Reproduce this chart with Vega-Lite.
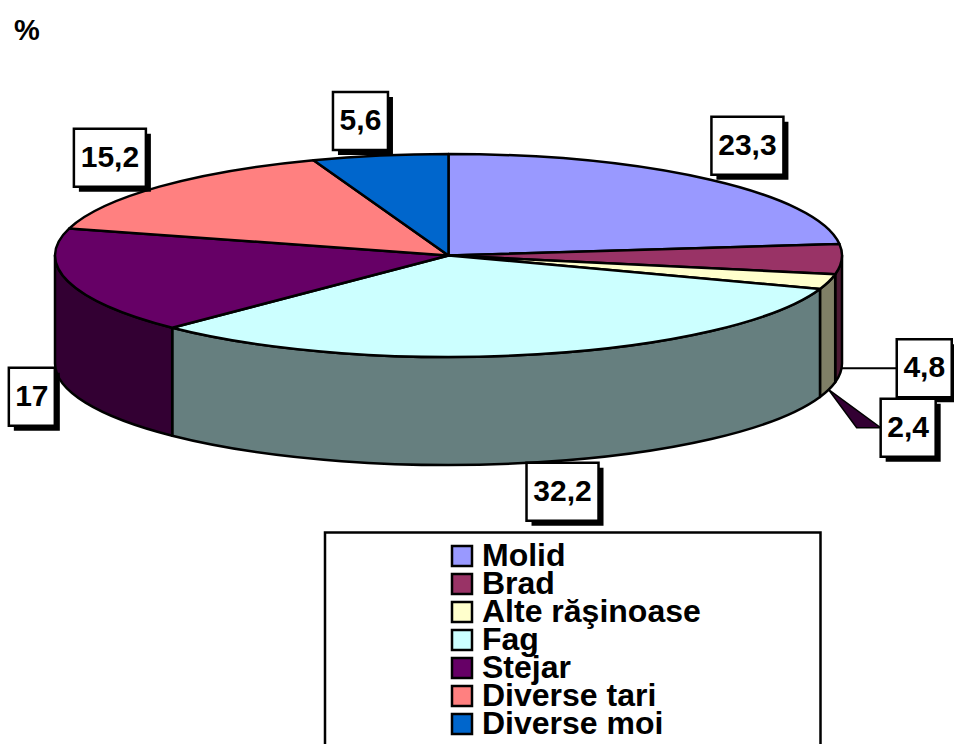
{
"$schema":"https://vega.github.io/schema/vega-lite/v6.json",
"width":954,"height":744,"padding":0,"autosize":"none",
"background":"white",
"config":{"view":{"stroke":null}},
"data":{"values":[
{"category":"Molid","value":23.3},
{"category":"Brad","value":4.8},
{"category":"Alte răşinoase","value":2.4},
{"category":"Fag","value":32.2},
{"category":"Stejar","value":17},
{"category":"Diverse tari","value":15.2},
{"category":"Diverse moi","value":5.6}
]},
"transform":[
{"window":[{"op":"sum","field":"value","as":"cum"},{"op":"row_number","as":"rowNum"}]},
{"joinaggregate":[{"op":"sum","field":"value","as":"total"}]},
{"calculate":"(datum.cum-datum.value)/datum.total*2*PI","as":"a0"},
{"calculate":"datum.cum/datum.total*2*PI","as":"a1"},
{"calculate":"(datum.a0+datum.a1)/2","as":"mid"},
{"calculate":"round(393.5*sin(datum.a0)*100)/100","as":"x0"},
{"calculate":"round(-101.5*cos(datum.a0)*100)/100","as":"y0"},
{"calculate":"round(393.5*sin(datum.a1)*100)/100","as":"x1"},
{"calculate":"round(-101.5*cos(datum.a1)*100)/100","as":"y1"},
{"calculate":"'M0,0L'+datum.x0+','+datum.y0+'A393.5,101.5 0 0 1 '+datum.x1+','+datum.y1+'Z'","as":"topPath"},
{"calculate":"clamp(datum.a0,PI/2,3*PI/2)","as":"w0"},
{"calculate":"clamp(datum.a1,PI/2,3*PI/2)","as":"w1"},
{"calculate":"round(393.5*sin(datum.w0)*100)/100","as":"wx0"},
{"calculate":"round(-101.5*cos(datum.w0)*100)/100","as":"wy0"},
{"calculate":"round(393.5*sin(datum.w1)*100)/100","as":"wx1"},
{"calculate":"round(-101.5*cos(datum.w1)*100)/100","as":"wy1"},
{"calculate":"'M'+datum.wx0+','+datum.wy0+'A393.5,101.5 0 0 1 '+datum.wx1+','+datum.wy1+'L'+datum.wx1+','+(datum.wy1+108)+'A393.5,101.5 0 0 0 '+datum.wx0+','+(datum.wy0+108)+'Z'","as":"wallPath"},
{"calculate":"replace(toString(datum.value),'.',',')","as":"label"},
{"calculate":"length(datum.label)==4?36:length(datum.label)==3?27.5:23","as":"hw"},
{"calculate":"393.5*sin(datum.mid)","as":"ax"},
{"calculate":"-101.5*cos(datum.mid)+108","as":"ay"},
{"calculate":"{'Molid':1,'Brad':55,'Alte răşinoase':52,'Fag':-11,'Stejar':-13.5,'Diverse tari':-13.5,'Diverse moi':8}[datum.category]","as":"nx"},
{"calculate":"{'Molid':-5,'Brad':-28,'Alte răşinoase':9,'Fag':0.5,'Stejar':-22,'Diverse tari':0,'Diverse moi':-5.5}[datum.category]","as":"ny"},
{"calculate":"393.5*sin(datum.mid)+(sin(datum.mid)<0?-1:1)*datum.hw+datum.nx","as":"lx"},
{"calculate":"-101.5*cos(datum.mid)+(cos(datum.mid)<0?137:-29)+datum.ny","as":"ly"},
{"calculate":"datum.lx-datum.hw","as":"bx0"},
{"calculate":"datum.lx+datum.hw","as":"bx1"},
{"calculate":"datum.ly-29","as":"by0"},
{"calculate":"datum.ly+29","as":"by1"},
{"calculate":"datum.bx0+5","as":"sx0"},
{"calculate":"datum.bx1+5","as":"sx1"},
{"calculate":"datum.by0+5","as":"sy0"},
{"calculate":"datum.by1+5","as":"sy1"},
{"calculate":"300.5+28*(datum.rowNum-1)","as":"legendRow"}
],
"layer":[
{"transform":[{"filter":"datum.a1>PI/2&&datum.a0<3*PI/2"}],
 "mark":{"type":"point","filled":true,"opacity":1,"stroke":"black","strokeWidth":2.5,"size":4,"strokeJoin":"round"},
 "encoding":{
  "x":{"datum":0,"type":"quantitative","scale":{"domain":[-448.5,505.5],"nice":false,"zero":false},"axis":null},
  "y":{"datum":0,"type":"quantitative","scale":{"domain":[-255.5,488.5],"reverse":true,"nice":false,"zero":false},"axis":null},
  "shape":{"field":"wallPath","type":"nominal","scale":null,"legend":null},
  "fill":{"field":"category","type":"nominal","legend":null,"scale":{"domain":["Molid","Brad","Alte răşinoase","Fag","Stejar","Diverse tari","Diverse moi"],"range":["#4C4C7F","#4C1933","#7F7F66","#667F7F","#330033","#7F4040","#003366"]}}
 }},
{"mark":{"type":"point","filled":true,"opacity":1,"stroke":"black","strokeWidth":2.5,"size":4,"strokeJoin":"round"},
 "encoding":{
  "x":{"datum":0,"type":"quantitative","scale":{"domain":[-448.5,505.5],"nice":false,"zero":false},"axis":null},
  "y":{"datum":0,"type":"quantitative","scale":{"domain":[-255.5,488.5],"reverse":true,"nice":false,"zero":false},"axis":null},
  "shape":{"field":"topPath","type":"nominal","scale":null,"legend":null},
  "fill":{"field":"category","type":"nominal","legend":null,
   "scale":{"domain":["Molid","Brad","Alte răşinoase","Fag","Stejar","Diverse tari","Diverse moi"],"range":["#9999FF","#993366","#FFFFCC","#CCFFFF","#660066","#FF8080","#0066CC"]}}
 }},
{"transform":[{"filter":"datum.category=='Brad'"}],
 "mark":{"type":"rule","color":"black","strokeWidth":2},
 "encoding":{
  "x":{"field":"ax","type":"quantitative","scale":{"domain":[-448.5,505.5],"nice":false,"zero":false},"axis":null},
  "y":{"field":"ly","type":"quantitative","scale":{"domain":[-255.5,488.5],"reverse":true,"nice":false,"zero":false},"axis":null},
  "x2":{"field":"bx0"}
 }},
{"transform":[{"filter":"datum.category=='Alte răşinoase'"},
  {"calculate":"'M0,0L'+(datum.bx0-datum.ax-24)+','+(datum.ly-datum.ay)+'L'+(datum.bx0-datum.ax)+','+(datum.ly-datum.ay)+'Z'","as":"leader"}],
 "mark":{"type":"point","filled":true,"opacity":1,"fill":"#330033","stroke":"black","strokeWidth":1.5,"size":4},
 "encoding":{
  "x":{"field":"ax","type":"quantitative","scale":{"domain":[-448.5,505.5],"nice":false,"zero":false},"axis":null},
  "y":{"field":"ay","type":"quantitative","scale":{"domain":[-255.5,488.5],"reverse":true,"nice":false,"zero":false},"axis":null},
  "shape":{"field":"leader","type":"nominal","scale":null,"legend":null}
 }},
{"mark":{"type":"rect","fill":"black"},
 "encoding":{
  "x":{"field":"sx0","type":"quantitative","scale":{"domain":[-448.5,505.5],"nice":false,"zero":false},"axis":null},
  "x2":{"field":"sx1"},
  "y":{"field":"sy0","type":"quantitative","scale":{"domain":[-255.5,488.5],"reverse":true,"nice":false,"zero":false},"axis":null},
  "y2":{"field":"sy1"}
 }},
{"mark":{"type":"rect","fill":"white","stroke":"black","strokeWidth":2.5},
 "encoding":{
  "x":{"field":"bx0","type":"quantitative","scale":{"domain":[-448.5,505.5],"nice":false,"zero":false},"axis":null},
  "x2":{"field":"bx1"},
  "y":{"field":"by0","type":"quantitative","scale":{"domain":[-255.5,488.5],"reverse":true,"nice":false,"zero":false},"axis":null},
  "y2":{"field":"by1"}
 }},
{"mark":{"type":"text","font":"Liberation Sans","fontWeight":"bold","fontSize":30,"color":"black","baseline":"middle","align":"center"},
 "encoding":{
  "x":{"field":"lx","type":"quantitative","scale":{"domain":[-448.5,505.5],"nice":false,"zero":false},"axis":null},
  "y":{"field":"ly","type":"quantitative","scale":{"domain":[-255.5,488.5],"reverse":true,"nice":false,"zero":false},"axis":null},
  "text":{"field":"label","type":"nominal"}
 }},
{"data":{"values":[{"label":"%"}]},
 "mark":{"type":"text","font":"Liberation Sans","fontWeight":"bold","fontSize":29,"color":"black","baseline":"middle","align":"center"},
 "encoding":{
  "x":{"datum":-421.5,"type":"quantitative","scale":{"domain":[-448.5,505.5],"nice":false,"zero":false},"axis":null},
  "y":{"datum":-225,"type":"quantitative","scale":{"domain":[-255.5,488.5],"reverse":true,"nice":false,"zero":false},"axis":null},
  "text":{"field":"label","type":"nominal"}
 }},
{"data":{"values":[{"frame":"legend"}]},
 "mark":{"type":"rect","fill":"white","stroke":"black","strokeWidth":2.5},
 "encoding":{
  "x":{"datum":-123.5,"type":"quantitative","scale":{"domain":[-448.5,505.5],"nice":false,"zero":false},"axis":null},
  "x2":{"datum":372},
  "y":{"datum":277,"type":"quantitative","scale":{"domain":[-255.5,488.5],"reverse":true,"nice":false,"zero":false},"axis":null},
  "y2":{"datum":495}
 }},
{"mark":{"type":"point","shape":"square","filled":true,"opacity":1,"stroke":"black","strokeWidth":2.5,"size":400},
 "encoding":{
  "x":{"datum":13.5,"type":"quantitative","scale":{"domain":[-448.5,505.5],"nice":false,"zero":false},"axis":null},
  "y":{"field":"legendRow","type":"quantitative","scale":{"domain":[-255.5,488.5],"reverse":true,"nice":false,"zero":false},"axis":null},
  "fill":{"field":"category","type":"nominal","legend":null,
   "scale":{"domain":["Molid","Brad","Alte răşinoase","Fag","Stejar","Diverse tari","Diverse moi"],"range":["#9999FF","#993366","#FFFFCC","#CCFFFF","#660066","#FF8080","#0066CC"]}}
 }},
{"mark":{"type":"text","font":"Liberation Sans","fontWeight":"bold","fontSize":32,"color":"black","baseline":"middle","align":"left"},
 "encoding":{
  "x":{"datum":33.5,"type":"quantitative","scale":{"domain":[-448.5,505.5],"nice":false,"zero":false},"axis":null},
  "y":{"field":"legendRow","type":"quantitative","scale":{"domain":[-255.5,488.5],"reverse":true,"nice":false,"zero":false},"axis":null},
  "text":{"field":"category","type":"nominal"}
 }}
],
"resolve":{"scale":{"fill":"independent"}}
}
